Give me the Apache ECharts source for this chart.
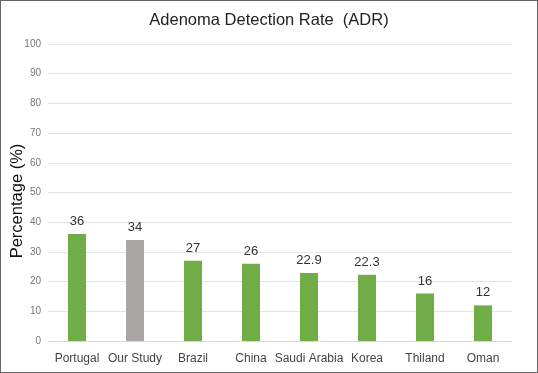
<!DOCTYPE html>
<html><head><meta charset="utf-8">
<script src="https://cdn.jsdelivr.net/npm/echarts@6/dist/echarts.min.js"></script>
<style>
html,body{margin:0;padding:0;background:#fff;}
#c{width:538px;height:373px;box-sizing:border-box;border:1px solid #666;}
</style></head><body>
<div id="c"></div>
<script>
const categories = ['Portugal','Our Study','Brazil','China','Saudi Arabia','Korea','Thiland','Oman'];
const values = [36, 34, 27, 26, 22.9, 22.3, 16, 12];
const highlightCategory = 'Our Study';
const yTicks = [0,10,20,30,40,50,60,70,80,90,100];

const chart = echarts.init(document.getElementById('c'), null, {renderer:'canvas'});
chart.setOption({
  animation:false,
  title:{text:'Adenoma Detection Rate  (ADR)', left:263, top:6, textAlign:'center',
    textStyle:{fontFamily:'Liberation Sans, Arial', fontSize:16.5, fontWeight:'normal', color:'#222'}},
  graphic:[{type:'text', x:16, y:200, rotation:Math.PI/2,
    style:{text:'Percentage (%)', fontFamily:'Liberation Sans, Arial', fontSize:16.5, fill:'#111', textAlign:'center', textVerticalAlign:'middle'}}],
  grid:{left:47, right:25, top:43, bottom:31},
  xAxis:{type:'category', data:categories,
    axisLine:{lineStyle:{color:'#d9d9d9'}}, axisTick:{show:false},
    axisLabel:{fontFamily:'Liberation Sans, Arial', fontSize:12, color:'#444', margin:12, interval:0}},
  yAxis:{type:'value', min:yTicks[0], max:yTicks[yTicks.length-1], interval:10,
    axisLine:{show:false}, axisTick:{show:false},
    splitLine:{lineStyle:{color:'#e3e3e3'}},
    axisLabel:{fontFamily:'Liberation Sans, Arial', fontSize:10, color:'#777', margin:7}},
  series:[{type:'bar', barWidth:18,
    data:values.map((v,i)=>({value:v, itemStyle:{color: categories[i]===highlightCategory ? '#a9a6a5' : '#70ad47'}})),
    label:{show:true, position:'top', distance:6, fontFamily:'Liberation Sans, Arial', fontSize:13, color:'#333'}}]
});
</script></body></html>
